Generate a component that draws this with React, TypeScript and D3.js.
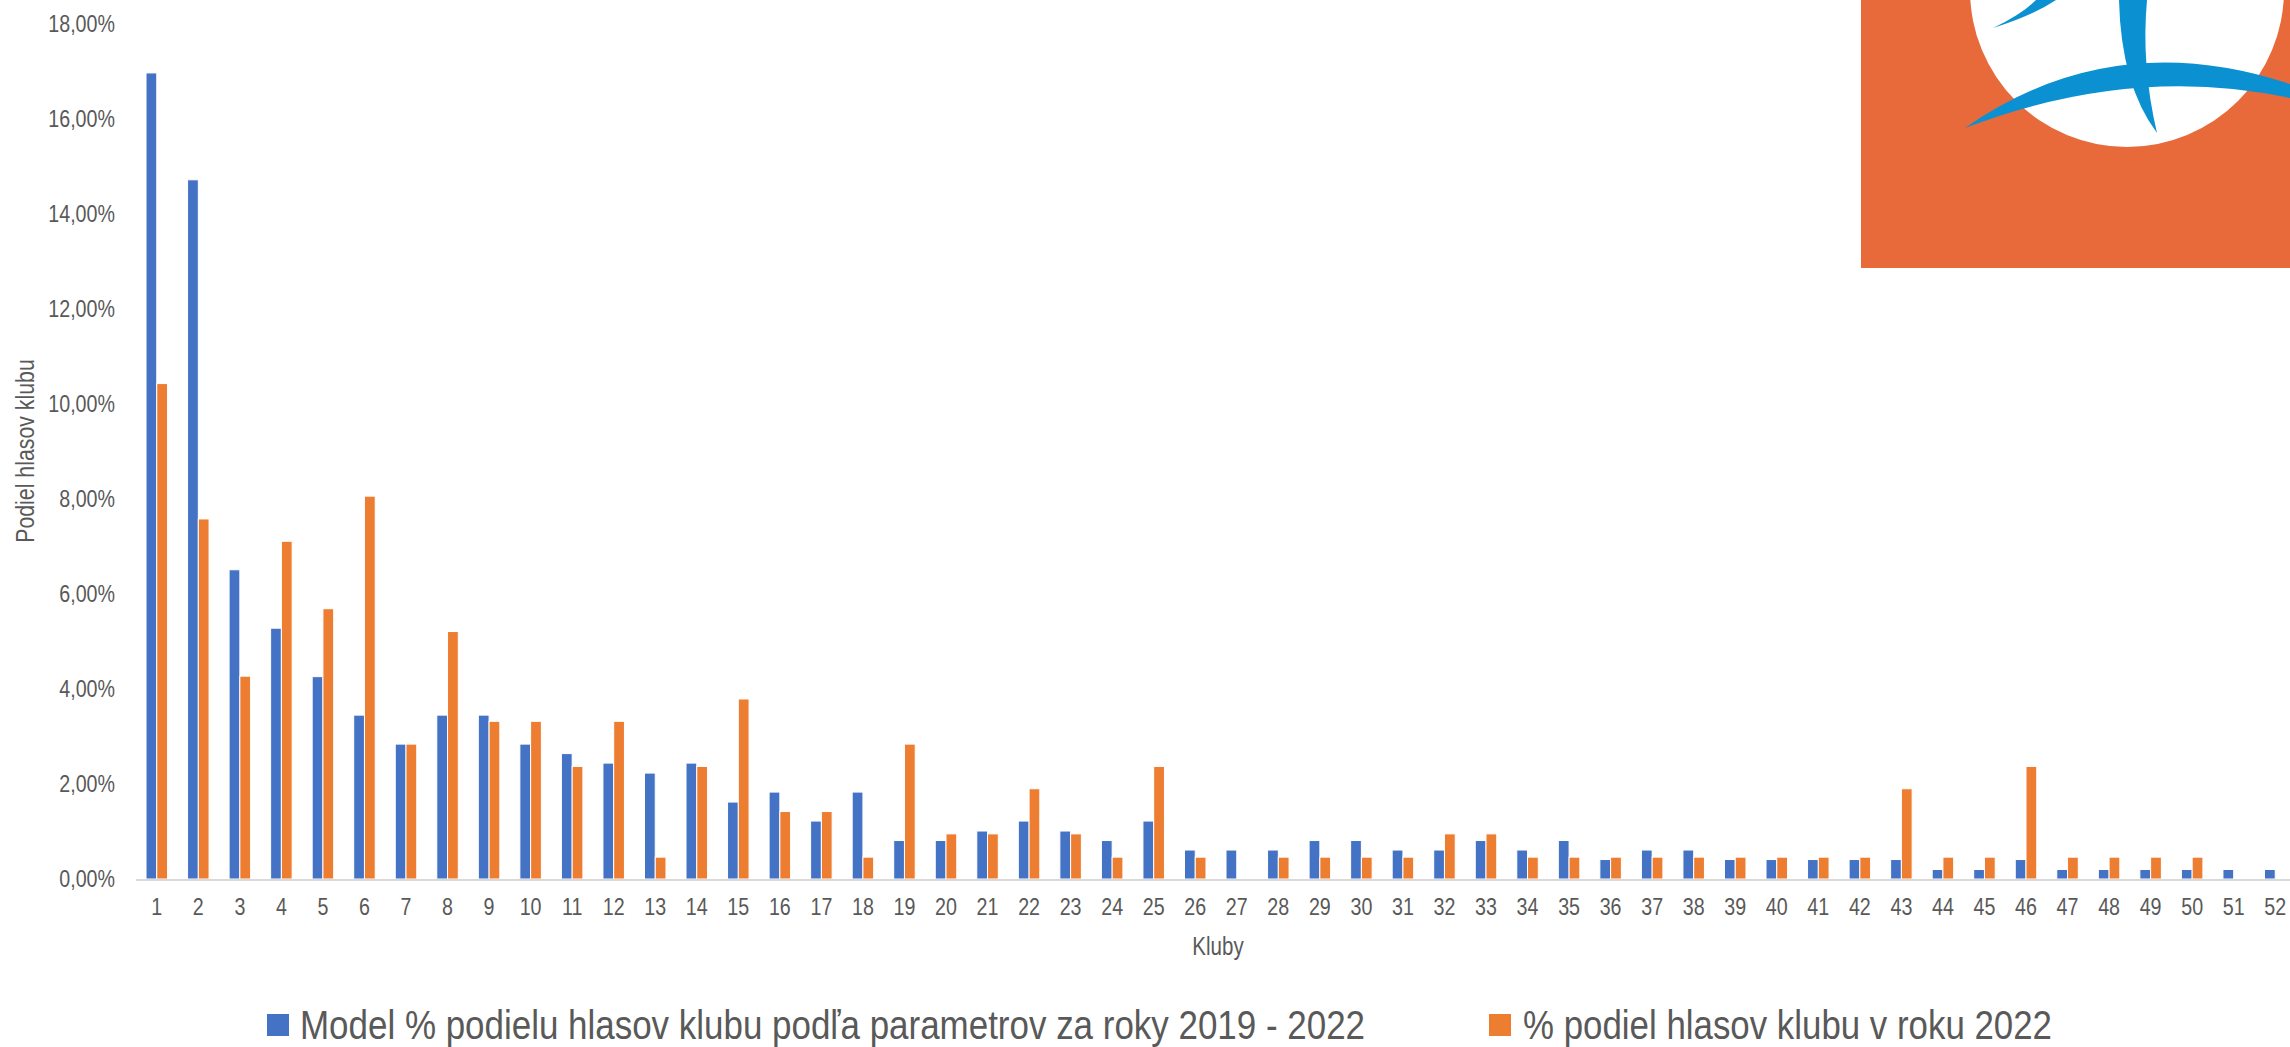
import React, { useEffect, useRef } from "react";
import * as d3 from "d3";

const clubs = [
  "1", "2", "3", "4", "5", "6", "7", "8", "9", "10", "11", "12", "13",
  "14", "15", "16", "17", "18", "19", "20", "21", "22", "23", "24", "25", "26",
  "27", "28", "29", "30", "31", "32", "33", "34", "35", "36", "37", "38", "39",
  "40", "41", "42", "43", "44", "45", "46", "47", "48", "49", "50", "51", "52",
];

// Model % podielu hlasov klubu podľa parametrov za roky 2019 - 2022
const modelShare = [
  16.97, 14.72, 6.51, 5.28, 4.26, 3.45, 2.84, 3.45, 3.45, 2.84, 2.64, 2.44, 2.23,
  2.44, 1.62, 1.83, 1.22, 1.83, 0.81, 0.81, 1.01, 1.22, 1.01, 0.81, 1.22, 0.61,
  0.61, 0.61, 0.81, 0.81, 0.61, 0.61, 0.81, 0.61, 0.81, 0.41, 0.61, 0.61, 0.41,
  0.41, 0.41, 0.41, 0.41, 0.2, 0.2, 0.41, 0.2, 0.2, 0.2, 0.2, 0.2, 0.2,
];

// % podiel hlasov klubu v roku 2022
const actualShare = [
  10.43, 7.58, 4.27, 7.11, 5.69, 8.06, 2.84, 5.21, 3.32, 3.32, 2.37, 3.32, 0.46,
  2.37, 3.79, 1.42, 1.42, 0.46, 2.84, 0.95, 0.95, 1.9, 0.95, 0.46, 2.37, 0.46,
  0, 0.46, 0.46, 0.46, 0.46, 0.95, 0.95, 0.46, 0.46, 0.46, 0.46, 0.46, 0.46,
  0.46, 0.46, 0.46, 1.9, 0.46, 0.46, 2.37, 0.46, 0.46, 0.46, 0.46, 0, 0,
];

const yTicks = [0, 2, 4, 6, 8, 10, 12, 14, 16, 18];
const seriesNames = [
  "Model % podielu hlasov klubu podľa parametrov za roky 2019 - 2022",
  "% podiel hlasov klubu v roku 2022",
];
const seriesKeys = ["model", "actual"];

const W = 2290;
const H = 1047;
// Liberation Sans squeezed horizontally stands in for Arial Narrow
const FONT = "'Liberation Sans', Arial, sans-serif";
const NARROW = 0.82;
const TEXT = "#595959";

const App = () => {
  const svgRef = useRef(null);

  useEffect(() => {
    const svg = d3.select(svgRef.current);
    svg.selectAll("*").remove();

    const rows = clubs.map((c, i) => ({ club: c, model: modelShare[i], actual: actualShare[i] }));

    const x = d3.scaleBand().domain(clubs).range([136, 2296]).padding(0);
    const x1 = d3.scaleBand().domain(seriesKeys).range([0, 21.5]).padding(0);
    const off = (x.bandwidth() - 21.5) / 2;
    const y = d3.scaleLinear().domain([0, 18]).range([879, 24]);
    const color = d3.scaleOrdinal().domain(seriesKeys).range(["#4472C4", "#ED7D31"]);

    const at = (px, py, extra = "") => `translate(${px},${py})${extra} scale(${NARROW},1)`;

    // logo in the corner
    const logo = svg.append("g");
    logo.append("clipPath").attr("id", "logoClip")
      .append("rect").attr("x", 1861).attr("y", 0).attr("width", W - 1861).attr("height", 268);
    const lg = logo.append("g").attr("clip-path", "url(#logoClip)");
    lg.append("rect").attr("x", 1861).attr("y", 0).attr("width", W - 1861).attr("height", 268).attr("fill", "#E86A3A");
    lg.append("circle").attr("cx", 2127).attr("cy", -10).attr("r", 157).attr("fill", "#ffffff");
    lg.append("path").attr("fill", "#0B91D1")
      .attr("d", "M1965,128 Q2112,25 2290,84 L2290,98 Q2132,64 1965,128 Z");
    lg.append("path").attr("fill", "#0B91D1")
      .attr("d", "M2119,0 Q2121,85 2157,133 Q2141,65 2147,0 Z");
    lg.append("path").attr("fill", "#0B91D1")
      .attr("d", "M1993,28 Q2022,14 2036,0 L2056,0 Q2032,16 1993,28 Z");

    // y ticks
    svg.append("g")
      .selectAll("text")
      .data(yTicks)
      .enter()
      .append("text")
      .attr("transform", (d) => at(115, y(d)))
      .attr("dy", "0.35em")
      .attr("text-anchor", "end")
      .attr("font-family", FONT)
      .attr("font-size", 24)
      .attr("fill", TEXT)
      .text((d) => d3.format(".2f")(d).replace(".", ",") + "%");

    // bars
    svg.append("g")
      .selectAll("g")
      .data(rows)
      .enter()
      .append("g")
      .attr("transform", (d) => `translate(${x(d.club) + off},0)`)
      .selectAll("rect")
      .data((d) => seriesKeys.map((k) => ({ key: k, value: d[k] })))
      .enter()
      .append("rect")
      .attr("x", (d) => x1(d.key))
      .attr("y", (d) => y(d.value))
      .attr("width", x1.bandwidth())
      .attr("height", (d) => y(0) - y(d.value))
      .attr("fill", (d) => color(d.key))
      .attr("stroke", (d) => (d.value > 0 ? "#ffffff" : "none"))
      .attr("stroke-width", 1);

    // x axis line
    svg.append("line")
      .attr("x1", 136).attr("x2", W)
      .attr("y1", y(0) + 1).attr("y2", y(0) + 1)
      .attr("stroke", "#D9D9D9").attr("stroke-width", 2);

    // x tick labels
    svg.append("g")
      .selectAll("text")
      .data(clubs)
      .enter()
      .append("text")
      .attr("transform", (d) => at(x(d) + x.bandwidth() / 2, 915))
      .attr("text-anchor", "middle")
      .attr("font-family", FONT)
      .attr("font-size", 24)
      .attr("fill", TEXT)
      .text((d) => d);

    // axis titles
    svg.append("text")
      .attr("transform", at(1218, 955))
      .attr("text-anchor", "middle")
      .attr("font-family", FONT).attr("font-size", 25).attr("fill", TEXT)
      .text("Kluby");

    svg.append("text")
      .attr("transform", at(34, 451, " rotate(-90)"))
      .attr("text-anchor", "middle")
      .attr("font-family", FONT).attr("font-size", 26).attr("fill", TEXT)
      .text("Podiel hlasov klubu");

    // legend
    const legendPos = [
      { sx: 267, tx: 300, tw: 1065 },
      { sx: 1489, tx: 1523, tw: 529 },
    ];
    const legend = svg.selectAll(".legend")
      .data(seriesKeys)
      .enter()
      .append("g")
      .attr("class", "legend");
    legend.append("rect")
      .attr("x", (d, i) => legendPos[i].sx)
      .attr("y", 1014)
      .attr("width", 22)
      .attr("height", 22)
      .attr("fill", (d) => color(d));
    legend.append("text")
      .attr("x", (d, i) => legendPos[i].tx)
      .attr("y", 1039)
      .attr("font-family", FONT)
      .attr("font-size", 40)
      .attr("fill", TEXT)
      .attr("textLength", (d, i) => legendPos[i].tw)
      .attr("lengthAdjust", "spacingAndGlyphs")
      .text((d, i) => seriesNames[i]);
  }, []);

  return (
    <svg
      ref={svgRef}
      width={W}
      height={H}
      style={{ position: "absolute", left: 0, top: 0, display: "block", background: "#ffffff" }}
    ></svg>
  );
};

export default App;
